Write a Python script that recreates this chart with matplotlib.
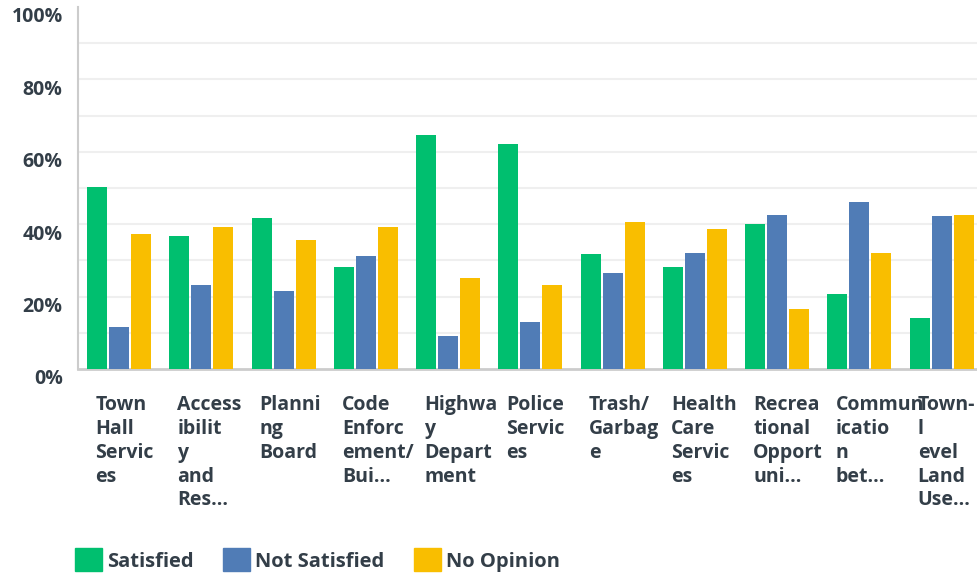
import matplotlib

matplotlib.use("Agg")
import matplotlib.pyplot as plt
import matplotlib.transforms as mtransforms
from matplotlib.patches import Patch
import numpy as np

categories = [
    "Town\nHall\nServic\nes",
    "Access\nibilit\ny\nand\nRes...",
    "Planni\nng\nBoard",
    "Code\nEnforc\nement/\nBui...",
    "Highwa\ny\nDepart\nment",
    "Police\nServic\nes",
    "Trash/\nGarbag\ne",
    "Health\nCare\nServic\nes",
    "Recrea\ntional\nOpport\nuni...",
    "Commun\nicatio\nn\nbet...",
    "Town-\nl\nevel\nLand\nUse...",
]
satisfied = [50.3, 36.8, 41.8, 28.2, 64.7, 62.2, 31.8, 28.2, 40.1, 20.8, 14.2]
not_satisfied = [11.7, 23.3, 21.6, 31.3, 9.2, 13.1, 26.6, 32.1, 42.6, 46.2, 42.3]
no_opinion = [37.4, 39.3, 35.7, 39.3, 25.2, 23.3, 40.7, 38.7, 16.7, 32.1, 42.6]
series = ["Satisfied", "Not Satisfied", "No Opinion"]
colors = ["#00BF6F", "#507CB6", "#F9BE00"]
text_color = "#333E48"

plt.rcParams["font.family"] = ["Open Sans", "DejaVu Sans"]

fig = plt.figure(figsize=(9.77, 5.75), dpi=100)
ax = fig.add_axes([78 / 977, 206 / 575, 899 / 977, 362 / 575])

x = np.arange(len(categories))
w = 0.243
step = 0.268
for k, (vals, c) in enumerate(zip([satisfied, not_satisfied, no_opinion], colors)):
    ax.bar(x + (k - 1) * step, vals, width=w, color=c, zorder=3)

ax.set_xlim(-0.5, 10.43)
ax.set_ylim(0, 100)
ax.set_yticks(np.arange(0, 101, 20))
ax.set_yticklabels([f"{v}%" for v in range(0, 101, 20)])
ax.grid(False)
for v in range(10, 100, 10):
    ax.axhline(v, color="#EFEFEF", linewidth=1.5, zorder=1)

for side in ["top", "right"]:
    ax.spines[side].set_visible(False)
ax.spines["left"].set_color("#CCCCCC")
ax.spines["left"].set_linewidth(1.5)
ax.spines["bottom"].set_color("#CCCCCC")
ax.spines["bottom"].set_linewidth(2)
ax.tick_params(axis="both", which="both", length=0)
ax.tick_params(axis="y", pad=11, labelsize=14, labelcolor=text_color)

ax.set_xticks(x)
ax.set_xticklabels(categories, ha="left", va="top", fontsize=14,
                   fontweight="bold", color=text_color, linespacing=1.25)
ax.tick_params(axis="x", pad=19)
off_x = mtransforms.ScaledTranslation(-24 / 100, 0, fig.dpi_scale_trans)
for lbl in ax.get_xticklabels():
    lbl.set_transform(lbl.get_transform() + off_x)
off_y = mtransforms.ScaledTranslation(0, -8 / 100, fig.dpi_scale_trans)
for lbl in ax.get_yticklabels():
    lbl.set_transform(lbl.get_transform() + off_y)
    lbl.set_fontweight("bold")

handles = [Patch(facecolor=c, edgecolor=c, label=s) for s, c in zip(series, colors)]
leg = fig.legend(handles=handles, loc="center left", bbox_to_anchor=(75 / 977, 1 - 560 / 575),
                 ncol=3, frameon=False, fontsize=14.5, handlelength=1.35, handleheight=1.35,
                 handletextpad=0.25, columnspacing=1.45, borderpad=0, borderaxespad=0)
for t in leg.get_texts():
    t.set_color(text_color)
    t.set_fontweight("bold")

fig.savefig("out.png", dpi=100)
